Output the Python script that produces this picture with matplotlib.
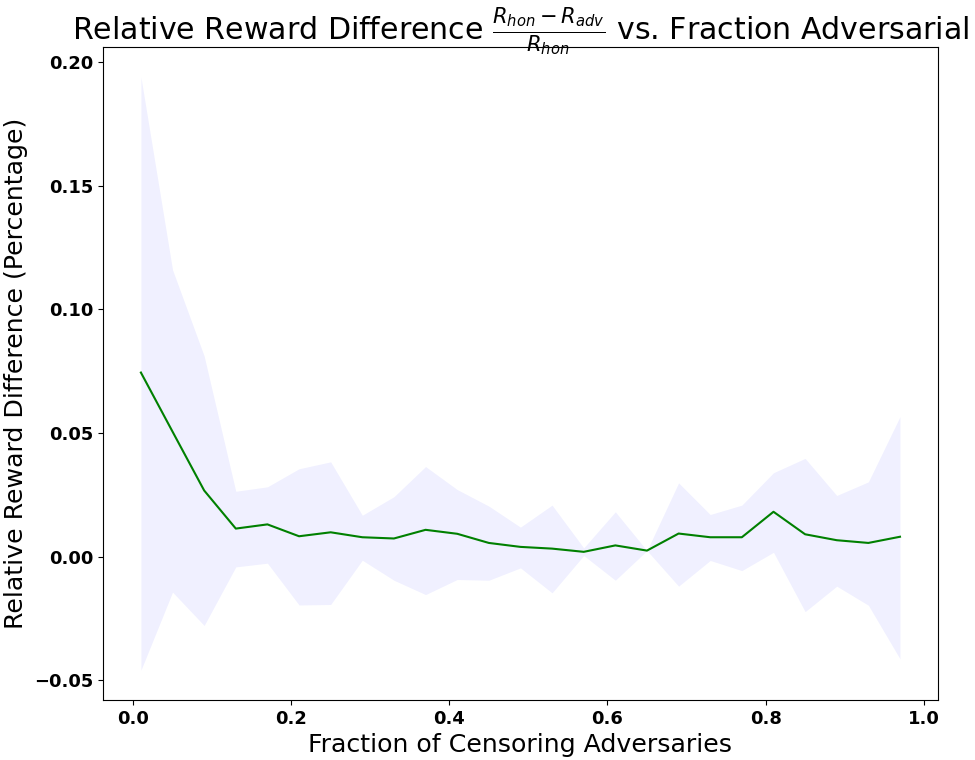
import numpy as np
import matplotlib
matplotlib.use("Agg")
import matplotlib.pyplot as plt

fractions = [0.01, 0.05, 0.09, 0.13, 0.17, 0.21, 0.25, 0.29, 0.33, 0.37, 0.41, 0.45, 0.49,
             0.53, 0.57, 0.61, 0.65, 0.69, 0.73, 0.77, 0.81, 0.85, 0.89, 0.93, 0.97]
mean_diff = [0.0744, 0.0505, 0.0267, 0.0113, 0.0130, 0.0082, 0.0098, 0.0078, 0.0073, 0.0108,
             0.0092, 0.0055, 0.0039, 0.0032, 0.0019, 0.0045, 0.0024, 0.0093, 0.0078, 0.0078,
             0.0181, 0.0090, 0.0066, 0.0055, 0.0080]
upper = [0.194, 0.116, 0.0811, 0.0264, 0.0282, 0.0355, 0.0383, 0.0167, 0.0242, 0.0364,
         0.0271, 0.0204, 0.0119, 0.0208, 0.0035, 0.0181, 0.0024, 0.0298, 0.0170, 0.0208,
         0.0339, 0.0397, 0.0247, 0.0302, 0.0566]
lower = [-0.0460, -0.0144, -0.0279, -0.0042, -0.0027, -0.0196, -0.0194, -0.0015, -0.0096, -0.0154,
         -0.0093, -0.0096, -0.0046, -0.0147, 0.0004, -0.0096, 0.0024, -0.0120, -0.0016, -0.0057,
         0.0017, -0.0223, -0.0120, -0.0197, -0.0414]

title_text = r"Relative Reward Difference $\frac{R_{hon}-R_{adv}}{R_{hon}}$ vs. Fraction Adversarial"

fig = plt.figure(figsize=(9.75, 7.6), dpi=100)
ax = fig.add_axes([0.1056, 0.079, 0.8564, 0.859])
ax.fill_between(fractions, lower, upper, color='blue', alpha=0.06, linewidth=0)
ax.plot(fractions, mean_diff, color='green', linewidth=1.5)

ax.text(0.5, 1.0107, title_text, transform=ax.transAxes, ha='center', va='baseline',
        fontsize=21.6)
ax.set_xlabel("Fraction of Censoring Adversaries", fontsize=18.2)
ax.set_ylabel("Relative Reward Difference (Percentage)", fontsize=18.2)
ax.set_xticks([0.0, 0.2, 0.4, 0.6, 0.8, 1.0])
ax.set_yticks([-0.05, 0.0, 0.05, 0.10, 0.15, 0.20])
for lab in ax.get_xticklabels() + ax.get_yticklabels():
    lab.set_fontsize(12.9)
    lab.set_fontweight('bold')

fig.savefig("out.png", dpi=100)
